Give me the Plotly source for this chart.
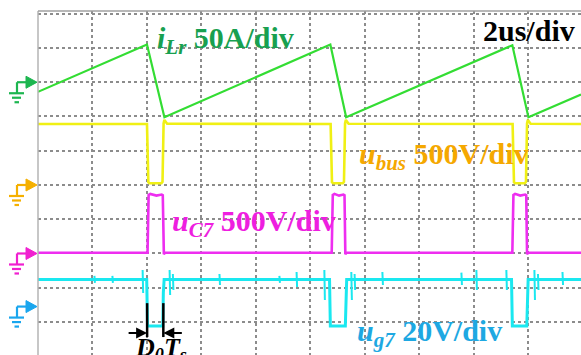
import plotly.graph_objects as go

# ---------------- scope settings ----------------
T_PER_DIV = 2.0            # us / div
ILR_SCALE, ILR_OFFSET = 50.0, 3.0      # A/div, ground level (div)
UBUS_SCALE, UBUS_OFFSET = 500.0, 0.0   # V/div
UC7_SCALE, UC7_OFFSET = 500.0, -2.0    # V/div
UG7_SCALE, UG7_OFFSET = 20.0, -3.55    # V/div

X_RANGE = [0.0, 19.93]
Y_RANGE = [-4.964, 5.08]

# ---------------- data ----------------
ilr_t = [0.0, 4.00, 4.64, 10.73, 11.31, 17.41, 18.00, 19.93]
ilr_a = [-14, 55, -51, 55, -51, 54, -51, -18]

ubus_t = [0.0, 4.00, 4.05, 4.09, 4.53, 4.57, 4.61, 4.64, 4.74,
          10.74, 10.79, 10.83, 11.19, 11.23, 11.27, 11.30, 11.40,
          17.42, 17.47, 17.51, 17.87, 17.91, 17.95, 17.98, 18.08, 19.93]
ubus_v = [890, 890, 40, 25, 25, 45, 900, 950, 895,
          890, 40, 25, 25, 45, 900, 950, 895,
          890, 40, 25, 25, 45, 900, 950, 895, 890]

uc7_t = [0.0, 4.02, 4.06, 4.12, 4.35, 4.54, 4.58, 4.62, 4.66,
         10.78, 10.82, 10.88, 11.05, 11.21, 11.25, 11.28, 11.32,
         17.41, 17.45, 17.51, 17.70, 17.88, 17.92, 17.95, 17.99, 19.93]
uc7_v = [10, 10, 855, 870, 845, 860, 850, -10, 10,
         10, 855, 870, 845, 860, 850, -10, 10,
         10, 855, 870, 845, 860, 850, -10, 10, 10]

ug7_t = [0.0, 3.99, 4.02, 4.58, 4.60, 4.63,
         10.70, 10.73, 11.28, 11.30, 11.33,
         17.38, 17.41, 17.94, 17.96, 17.99, 19.93]
ug7_v = [15.8, 15.8, -11.3, -11.3, 8.0, 15.8,
         15.8, -11.3, -11.3, 8.0, 15.8,
         15.8, -11.3, -11.3, 8.0, 15.8, 15.8]

# switching noise spikes on u_g7: time (us), top (V), bottom (V)
spike_t = [2.07, 2.73, 3.84, 4.83, 4.95, 6.66, 8.86, 9.49, 10.51, 11.50, 11.62,
           12.64, 15.54, 16.09, 17.19, 18.22, 18.35, 19.25]
spike_hi = [17.9, 17.9, 21.4, 21.4, 19.0, 19.0, 17.9, 20.2, 21.4, 20.2, 19.0,
            20.2, 19.8, 21.4, 21.4, 21.4, 19.0, 20.2]
spike_lo = [13.8, 13.8, 7.9, 6.8, 9.7, 12.6, 13.8, 11.4, 3.8, 3.8, 9.7,
            12.6, 12.6, 9.7, 9.7, 3.8, 9.7, 12.6]

# ---------------- colours ----------------
C_ILR, C_ILR_TXT = "#33dd33", "#18a050"
C_UBUS, C_UBUS_TXT, C_UBUS_GND = "#f0f014", "#f5a800", "#f5b000"
C_UC7, C_UC7_TXT, C_UC7_GND = "#ee2ef0", "#ee1ee0", "#f020d0"
C_UG7, C_UG7_TXT, C_UG7_GND = "#1ae8f0", "#1ea8e2", "#1aa6ee"


def to_div(vals, scale, offset):
    return [offset + v / scale for v in vals]


fig = go.Figure()
fig.add_trace(go.Scatter(x=ug7_t, y=to_div(ug7_v, UG7_SCALE, UG7_OFFSET), mode="lines",
                         line=dict(color=C_UG7, width=3), hoverinfo="skip"))
sx, sy = [], []
for t, hi, lo in zip(spike_t, spike_hi, spike_lo):
    sx += [t, t + 0.02, None]
    sy += [UG7_OFFSET + hi / UG7_SCALE, UG7_OFFSET + lo / UG7_SCALE, None]
fig.add_trace(go.Scatter(x=sx, y=sy, mode="lines", line=dict(color=C_UG7, width=2), hoverinfo="skip"))
fig.add_trace(go.Scatter(x=uc7_t, y=to_div(uc7_v, UC7_SCALE, UC7_OFFSET), mode="lines",
                         line=dict(color=C_UC7, width=2.6), hoverinfo="skip"))
fig.add_trace(go.Scatter(x=ubus_t, y=to_div(ubus_v, UBUS_SCALE, UBUS_OFFSET), mode="lines",
                         line=dict(color=C_UBUS, width=2.6), hoverinfo="skip"))
fig.add_trace(go.Scatter(x=ilr_t, y=to_div(ilr_a, ILR_SCALE, ILR_OFFSET), mode="lines",
                         line=dict(color=C_ILR, width=2.2), hoverinfo="skip"))

W, H = 581, 355
ML, MT = 38, 11
PW, PH = W - ML, H - MT

shapes = []
# plot border (left and top)
shapes.append(dict(type="line", xref="paper", yref="paper", x0=0, x1=0, y0=0, y1=1,
                   line=dict(color="#b4b4b4", width=1.5)))
shapes.append(dict(type="line", xref="paper", yref="paper", x0=0, x1=1, y0=1, y1=1,
                   line=dict(color="#a0a0a0", width=1.5)))


def ground_marker(offset, color):
    yp = (offset - Y_RANGE[0]) / (Y_RANGE[1] - Y_RANGE[0])

    def X(px):
        return (px - ML) / PW

    def Y(dpy):
        return yp - dpy / PH

    ln = dict(color=color, width=2.2)
    out = [
        dict(type="line", xref="paper", yref="paper", x0=X(17), x1=X(28), y0=Y(0), y1=Y(0), line=ln),
        dict(type="line", xref="paper", yref="paper", x0=X(17), x1=X(17), y0=Y(0), y1=Y(11), line=ln),
        dict(type="line", xref="paper", yref="paper", x0=X(9), x1=X(24), y0=Y(11), y1=Y(11), line=ln),
        dict(type="line", xref="paper", yref="paper", x0=X(12), x1=X(21), y0=Y(15.5), y1=Y(15.5), line=ln),
        dict(type="line", xref="paper", yref="paper", x0=X(14.5), x1=X(19), y0=Y(20), y1=Y(20), line=ln),
        dict(type="path", xref="paper", yref="paper",
             path=f"M {X(26)},{Y(-6)} L {X(37)},{Y(0)} L {X(26)},{Y(6)} Z",
             fillcolor=color, line=dict(color=color, width=1)),
    ]
    return out


shapes += ground_marker(ILR_OFFSET, "#1db650")
shapes += ground_marker(UBUS_OFFSET, C_UBUS_GND)
shapes += ground_marker(UC7_OFFSET, C_UC7_GND)
shapes += ground_marker(UG7_OFFSET, C_UG7_GND)

# D0Ts markers at the first gate pulse edges
d0_left, d0_right = ug7_t[1] + 0.015, ug7_t[4]
for xe in (d0_left, d0_right):
    shapes.append(dict(type="line", xref="x", yref="y", x0=xe, x1=xe, y0=-3.45, y1=-4.44,
                       line=dict(color="black", width=2.5)))

FONT = "Liberation Serif, Times New Roman, serif"
FS = 30
annotations = [
    dict(x=4.30, y=4.22, xref="x", yref="y", xanchor="left", yanchor="middle", showarrow=False,
         text="<b><i>i</i><sub><i>Lr</i></sub> 50A/div</b>", font=dict(family=FONT, size=FS, color=C_ILR_TXT)),
    dict(x=19.80, y=4.52, xref="x", yref="y", xanchor="right", yanchor="middle", showarrow=False,
         text="<b>2us/div</b>", font=dict(family=FONT, size=FS, color="black")),
    dict(x=11.70, y=0.86, xref="x", yref="y", xanchor="left", yanchor="middle", showarrow=False,
         text="<b><i>u</i><sub><i>bus</i></sub> 500V/div</b>", font=dict(family=FONT, size=FS, color=C_UBUS_TXT)),
    dict(x=4.84, y=-1.12, xref="x", yref="y", xanchor="left", yanchor="middle", showarrow=False,
         text="<b><i>u</i><sub><i>C7</i></sub> 500V/div</b>", font=dict(family=FONT, size=FS, color=C_UC7_TXT)),
    dict(x=11.62, y=-4.33, xref="x", yref="y", xanchor="left", yanchor="middle", showarrow=False,
         text="<b><i>u</i><sub><i>g7</i></sub> 20V/div</b>", font=dict(family=FONT, size=FS, color=C_UG7_TXT)),
    dict(x=3.50, y=-4.27, xref="x", yref="y", xanchor="left", yanchor="top", showarrow=False,
         text="<b><i>D</i><sub><i>0</i></sub><i>T</i><sub><i>s</i></sub></b>",
         font=dict(family=FONT, size=26, color="black")),
    dict(x=d0_left, y=-4.32, xref="x", yref="y", ax=-20, ay=0, showarrow=True, text="",
         arrowhead=2, arrowsize=1.1, arrowwidth=2, arrowcolor="black"),
    dict(x=d0_right, y=-4.32, xref="x", yref="y", ax=20, ay=0, showarrow=True, text="",
         arrowhead=2, arrowsize=1.1, arrowwidth=2, arrowcolor="black"),
]

grid = dict(showgrid=True, gridcolor="#8c8c8c", griddash="dot", gridwidth=1.5,
            showticklabels=False, ticks="", zeroline=False, showline=False, fixedrange=True)
fig.update_xaxes(range=X_RANGE, tick0=0, dtick=T_PER_DIV, **grid)
fig.update_yaxes(range=Y_RANGE, tick0=0, dtick=1, **grid)

fig.update_layout(width=W, height=H, margin=dict(l=ML, r=0, t=MT, b=0, pad=0),
                  paper_bgcolor="white", plot_bgcolor="white", showlegend=False,
                  shapes=shapes, annotations=annotations)

fig.write_html("out.html")
